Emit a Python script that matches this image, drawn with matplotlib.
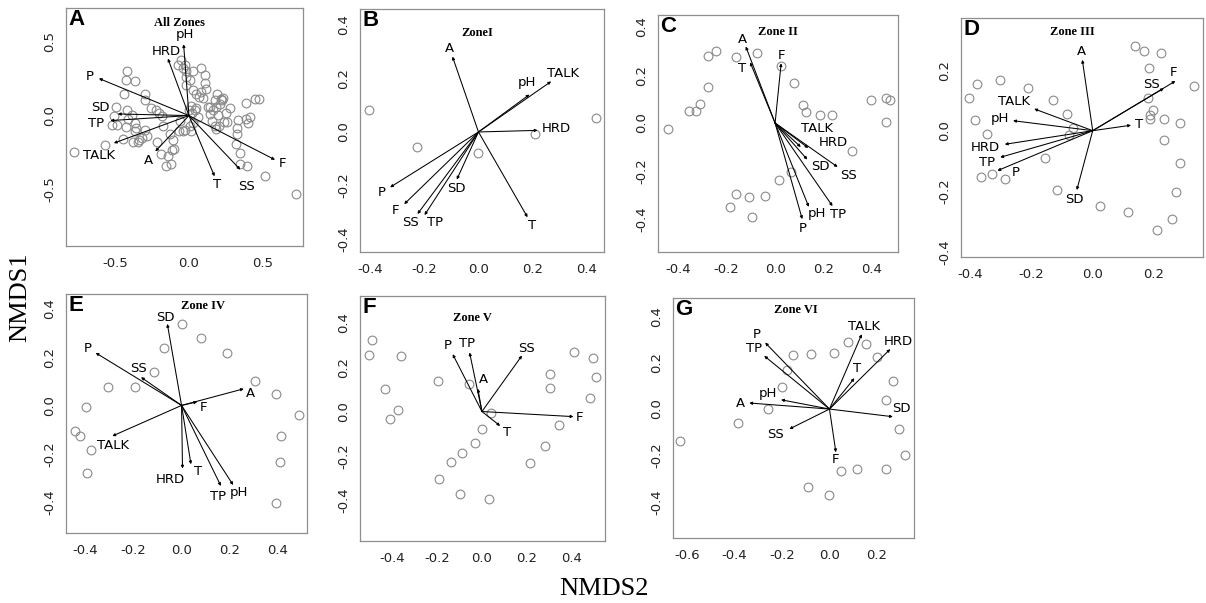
import numpy as np
import matplotlib
matplotlib.use('Agg')
import matplotlib.pyplot as plt

# ---- All zones ----
a_vars = ['pH', 'HRD', 'P', 'SD', 'TP', 'TALK', 'A', 'T', 'SS', 'F']
a_vx = [-0.036, -0.142, -0.608, -0.480, -0.530, -0.507, -0.227, 0.173, 0.347, 0.581]
a_vy = [0.484, 0.387, 0.252, 0.011, -0.034, -0.187, -0.243, -0.412, -0.367, -0.300]
a_sx = [-0.779, -0.570, -0.419, -0.423, -0.367, -0.441, -0.295, -0.295, -0.495, -0.417,
        -0.383, -0.507, -0.518, -0.484, -0.412, -0.428, -0.367, -0.367, -0.356, -0.446,
        -0.378, -0.345, -0.338, -0.315, -0.300, -0.282, -0.255, -0.221, -0.203, -0.185,
        -0.176, -0.216, -0.187, -0.153, -0.119, -0.142, -0.113, -0.108, -0.104, -0.131,
        -0.070, -0.029, -0.041, 0.016, 0.005, 0.020, 0.038, 0.000,
        -0.074, -0.052, -0.041, -0.025, -0.018, 0.027, 0.079, 0.106, 0.106, -0.018,
        0.005, -0.018, 0.027, 0.050, 0.079, 0.113, 0.068, 0.095, 0.016, 0.050,
        0.189, 0.230, 0.223, 0.207, 0.173, 0.128, 0.140, 0.162, 0.196, 0.252,
        0.279, 0.234, 0.155, 0.173, 0.185, 0.203, 0.259, 0.331, 0.387, 0.414,
        0.399, 0.383, 0.444, 0.473, 0.324, 0.324, 0.315, 0.342, 0.347, 0.392,
        0.511, 0.721, 0.218, 0.185, 0.060, 0.030, -0.060, 0.140]
a_sy = [-0.248, -0.198, 0.302, 0.241, 0.234, 0.144, 0.144, 0.106, 0.056, 0.038,
        0.005, -0.002, -0.063, -0.063, -0.025, -0.079, -0.047, -0.108, -0.086, -0.160,
        -0.176, -0.182, -0.164, -0.153, -0.101, -0.137, 0.050, 0.038, 0.016, -0.002,
        -0.074, -0.176, -0.259, -0.345, -0.329, -0.277, -0.232, -0.169, -0.226, -0.124,
        -0.108, -0.097, -0.108, -0.104, -0.068, 0.020, 0.038, 0.038,
        0.342, 0.376, 0.320, 0.342, 0.302, 0.302, 0.320, 0.275, 0.223, 0.264,
        0.241, 0.207, 0.173, 0.146, 0.162, 0.178, 0.124, 0.122, 0.065, 0.050,
        0.146, 0.122, 0.106, 0.079, 0.106, 0.056, 0.061, 0.038, 0.005, 0.016,
        0.050, -0.045, -0.034, -0.074, -0.092, -0.074, -0.041, -0.029, -0.025, -0.007,
        -0.047, 0.088, 0.110, 0.113, -0.086, -0.126, -0.191, -0.255, -0.327, -0.345,
        -0.408, -0.529, 0.115, 0.056, -0.010, -0.050, -0.040, 0.010]

# ---- Zone I ----
b_vars = ['A', 'pH', 'TALK', 'HRD', 'T', 'SD', 'TP', 'SS', 'F', 'P']
b_vx = [-0.096, 0.188, 0.268, 0.218, 0.181, -0.080, -0.199, -0.225, -0.274, -0.326]
b_vy = [0.282, 0.140, 0.189, 0.006, -0.319, -0.178, -0.311, -0.307, -0.270, -0.207]
b_sx = [-0.404, -0.226, 0.000, 0.207, 0.433]
b_sy = [0.083, -0.056, -0.078, -0.009, 0.052]

# ---- Zone II ----
c_vars = ['A', 'T', 'F', 'TALK', 'HRD', 'SD', 'SS', 'TP', 'pH', 'P']
c_vx = [-0.121, -0.103, 0.025, 0.106, 0.137, 0.133, 0.258, 0.237, 0.139, 0.112]
c_vy = [0.319, 0.253, 0.249, -0.100, -0.104, -0.152, -0.183, -0.346, -0.349, -0.400]
c_sx = [-0.443, -0.354, -0.325, -0.311, -0.277, -0.278, -0.243, -0.160, -0.073, 0.025,
        0.080, 0.114, 0.128, 0.187, 0.235, 0.394, 0.457, 0.476, 0.457, 0.316,
        0.066, 0.018, -0.041, -0.107, -0.163, -0.188, -0.096]
c_sy = [-0.026, 0.050, 0.050, 0.080, 0.152, 0.281, 0.299, 0.274, 0.291, 0.237,
        0.168, 0.076, 0.048, 0.035, 0.035, 0.094, 0.104, 0.097, 0.004, -0.118,
        -0.204, -0.238, -0.303, -0.309, -0.294, -0.349, -0.393]

# ---- Zone III ----
d_vars = ['A', 'F', 'SS', 'T', 'TALK', 'pH', 'HRD', 'TP', 'P', 'SD']
d_vx = [-0.034, 0.270, 0.232, 0.125, -0.191, -0.260, -0.287, -0.302, -0.311, -0.052]
d_vy = [0.234, 0.164, 0.140, 0.018, 0.072, 0.033, -0.045, -0.088, -0.132, -0.196]
d_sx = [-0.404, -0.378, -0.383, -0.344, -0.366, -0.329, -0.287, -0.302, -0.210, -0.129,
        -0.085, -0.066, -0.079, -0.156, -0.115, 0.024, 0.114, 0.210, 0.259, 0.273,
        0.284, 0.284, 0.232, 0.234, 0.186, 0.188, 0.197, 0.180, 0.183, 0.139,
        0.168, 0.224, 0.332]
d_sy = [0.107, 0.154, 0.035, -0.012, -0.154, -0.143, -0.158, 0.168, 0.141, 0.100,
        0.054, 0.008, -0.014, -0.090, -0.196, -0.247, -0.267, -0.329, -0.292, -0.204,
        -0.106, 0.024, -0.031, 0.040, 0.040, 0.052, 0.068, 0.107, 0.206, 0.281,
        0.262, 0.258, 0.149]

# ---- Zone IV ----
e_vars = ['SD', 'P', 'SS', 'A', 'F', 'TALK', 'HRD', 'T', 'TP', 'pH']
e_vx = [-0.059, -0.356, -0.168, 0.258, 0.065, -0.287, 0.004, 0.039, 0.163, 0.214]
e_vy = [0.338, 0.218, 0.117, 0.069, 0.015, -0.127, -0.262, -0.244, -0.334, -0.330]
e_sx = [0.001, 0.080, 0.190, -0.073, -0.116, -0.306, -0.193, -0.396, -0.441, -0.423,
        -0.375, -0.393, 0.306, 0.390, 0.486, 0.411, 0.407, 0.390]
e_sy = [0.338, 0.279, 0.218, 0.239, 0.139, 0.077, 0.077, -0.006, -0.108, -0.127,
        -0.186, -0.279, 0.101, 0.048, -0.041, -0.127, -0.233, -0.406]

# ---- Zone V ----
f_vars = ['P', 'TP', 'SS', 'A', 'F', 'T']
f_vx = [-0.130, -0.055, 0.178, -0.018, 0.407, 0.081]
f_vy = [0.259, 0.267, 0.253, 0.103, -0.023, -0.065]
f_sx = [-0.489, -0.504, -0.360, -0.433, -0.373, -0.407, -0.197, -0.056, 0.041, 0.000,
        -0.033, -0.089, -0.138, -0.193, -0.096, 0.030, 0.215, 0.281, 0.341, 0.301,
        0.304, 0.407, 0.493, 0.507, 0.481]
f_sy = [0.321, 0.255, 0.250, 0.100, 0.006, -0.035, 0.140, 0.124, -0.005, -0.081,
        -0.143, -0.189, -0.226, -0.305, -0.374, -0.397, -0.234, -0.155, -0.062, 0.106,
        0.169, 0.268, 0.240, 0.158, 0.063]

# ---- Zone VI ----
g_vars = ['P', 'TP', 'TALK', 'HRD', 'T', 'pH', 'A', 'SD', 'SS', 'F']
g_vx = [-0.271, -0.275, 0.136, 0.256, 0.105, -0.204, -0.338, 0.267, -0.169, 0.027]
g_vy = [0.286, 0.229, 0.322, 0.258, 0.133, 0.040, 0.026, -0.033, -0.086, -0.186]
g_sx = [-0.629, -0.386, -0.260, -0.202, -0.180, -0.154, -0.079, 0.020, 0.077, 0.154,
        0.202, 0.267, 0.240, 0.292, 0.319, 0.236, 0.118, 0.048, -0.091, -0.001]
g_sy = [-0.139, -0.060, 0.000, 0.094, 0.169, 0.232, 0.235, 0.243, 0.288, 0.282,
        0.223, 0.122, 0.037, -0.086, -0.197, -0.258, -0.260, -0.268, -0.336, -0.368]

W, H = 1206, 603
fig = plt.figure(figsize=(W / 100, H / 100), dpi=100)


def box(l, t, r, b):
    return [l / W, 1 - b / H, (r - l) / W, (b - t) / H]


t5 = [-0.4, -0.2, 0.0, 0.2, 0.4]
# lab: pixel nudges (right, up) of each vector label from its arrow head
panels = [
    dict(letter='A', title='All Zones', pos=box(66, 8, 303, 246), tx=0.48, ty=15,
         xlim=(-0.83, 0.77), ylim=(-0.885, 0.73), xt=[-0.5, 0, 0.5], yt=[-0.5, 0, 0.5],
         vars=a_vars, vx=a_vx, vy=a_vy, sx=a_sx, sy=a_sy,
         lab=[(1.7, 9.7), (-1.7, 6.7), (-8.7, 2.3), (-17.7, 6.7), (-14.3, -2.7),
              (-14.3, -12.3), (-7.3, -9.3), (2.3, -8.3), (6, -16.7), (7.3, -3.3)]),
    dict(letter='B', title='ZoneI', pos=box(360, 9, 604, 252), tx=0.48, ty=24,
         xlim=(-0.437, 0.463), ylim=(-0.449, 0.46), xt=t5, yt=t5,
         vars=b_vars, vx=b_vx, vy=b_vy, sx=b_sx, sy=b_sy,
         lab=[(-3, 7.7), (-2.7, 12.3), (11.7, 7.7), (18.7, 1.7), (5, -8.7),
              (0, -9), (10.7, -7.7), (-7.3, -8.7), (-9, -6.7), (-8.3, -5.3)]),
    dict(letter='C', title='Zone II', pos=box(658, 15, 898, 252), tx=0.5, ty=17,
         xlim=(-0.483, 0.507), ylim=(-0.537, 0.45), xt=t5, yt=t5,
         vars=c_vars, vx=c_vx, vy=c_vy, sx=c_sx, sy=c_sy,
         lab=[(-3.3, 7), (-8.3, -5.7), (0, 7.7), (16, 18.3), (25, 6),
              (12.7, -7.3), (10.7, -8.3), (5.7, -8.3), (8, -6.7), (1, -9.3)]),
    dict(letter='D', title='Zone III', pos=box(961, 18, 1203, 257), tx=0.46, ty=14,
         xlim=(-0.43, 0.36), ylim=(-0.417, 0.372), xt=[-0.4, -0.2, 0, 0.2],
         yt=[-0.4, -0.2, 0, 0.2],
         vars=d_vars, vx=d_vx, vy=d_vy, sx=d_sx, sy=d_sy,
         lab=[(-1.3, 8.3), (-1.7, 8.3), (-12.7, 3.3), (7.7, 1), (-20.3, 7.3),
              (-13.3, 1.7), (-19, -3.3), (-13.3, -5), (18.3, -1.7), (-2.3, -9)]),
    dict(letter='E', title='Zone IV', pos=box(66, 294, 307, 533), tx=0.57, ty=12,
         xlim=(-0.479, 0.52), ylim=(-0.529, 0.462), xt=t5, yt=t5,
         vars=e_vars, vx=e_vx, vy=e_vy, sx=e_sx, sy=e_sy,
         lab=[(-1.7, 6.7), (-8.3, 4), (-2.7, 8.7), (6.7, -4.7), (6.7, -6),
              (1, -9), (-12.7, -10.7), (7.3, -7.7), (-2.7, -10.7), (6, -7)]),
    dict(letter='F', title='Zone V', pos=box(360, 296, 605, 541), tx=0.46, ty=22,
         xlim=(-0.542, 0.547), ylim=(-0.585, 0.522), xt=t5, yt=t5,
         vars=f_vars, vx=f_vx, vy=f_vy, sx=f_sx, sy=f_sy,
         lab=[(-4.7, 8.3), (-2.7, 8.7), (5, 7.3), (5.7, 9), (6, -0.7), (6.7, -6.7)]),
    dict(letter='G', title='Zone VI', pos=box(673, 298, 914, 538), tx=0.51, ty=12,
         xlim=(-0.659, 0.356), ylim=(-0.555, 0.478), xt=[-0.6, -0.4, -0.2, 0, 0.2],
         yt=t5,
         vars=g_vars, vx=g_vx, vy=g_vy, sx=g_sx, sy=g_sy,
         lab=[(-8.3, 8.3), (-10, 7.7), (2.7, 7.7), (8.3, 7.7), (3, 10),
              (-13.3, 6), (-8.3, 0), (8.3, 8.7), (-13.7, -5), (0, -7.3)]),
]

frame_col = '#8f8f8f'
px = 72 / fig.dpi

for p in panels:
    ax = fig.add_axes(p['pos'])
    ax.set_xlim(*p['xlim'])
    ax.set_ylim(*p['ylim'])
    for s in ax.spines.values():
        s.set_color(frame_col)
        s.set_linewidth(0.9)
    ax.set_xticks(p['xt'])
    ax.set_yticks(p['yt'])
    ax.set_xticklabels(['%.1f' % (v + 0.0) for v in p['xt']])
    ax.set_yticklabels(['%.1f' % (v + 0.0) for v in p['yt']])
    ax.tick_params(axis='both', length=0, labelsize=9.5, colors='#222222')
    ax.tick_params(axis='x', pad=8)
    ax.tick_params(axis='y', pad=7, labelrotation=90)
    for lab in ax.get_yticklabels():
        lab.set_va('center')

    # site scores
    ax.plot(p['sx'], p['sy'], 'o', ms=6.3, mfc='none', mec='#8a8a8a', mew=0.8,
            zorder=2)

    # fitted environmental vectors
    for name, x, y, (dx, dy) in zip(p['vars'], p['vx'], p['vy'], p['lab']):
        ax.annotate('', xy=(x, y), xytext=(0, 0),
                    arrowprops=dict(arrowstyle='-|>', color='black', lw=0.75,
                                    mutation_scale=4, shrinkA=0, shrinkB=0),
                    zorder=3)
        ax.annotate(name, xy=(x, y), xytext=(dx * px, dy * px),
                    textcoords='offset points', ha='center', va='center',
                    fontsize=9.5, color='black', zorder=4)

    ax.annotate(p['letter'], xy=(0, 1), xycoords='axes fraction', xytext=(1.5, -1),
                textcoords='offset points', ha='left', va='top', fontsize=16,
                fontweight='bold', family='Liberation Sans')
    ax.annotate(p['title'], xy=(p['tx'], 1), xycoords='axes fraction',
                xytext=(0, -p['ty'] * px), textcoords='offset points',
                ha='center', va='center', fontsize=9, fontweight='bold',
                family='Liberation Serif')

fig.text(20 / W, 1 - 297 / H, 'NMDS1', rotation=90, ha='center', va='center',
         fontsize=19, family='Liberation Serif')
fig.text(604 / W, 1 - 589 / H, 'NMDS2', ha='center', va='center',
         fontsize=19, family='Liberation Serif')

fig.savefig('out.png', dpi=100)
